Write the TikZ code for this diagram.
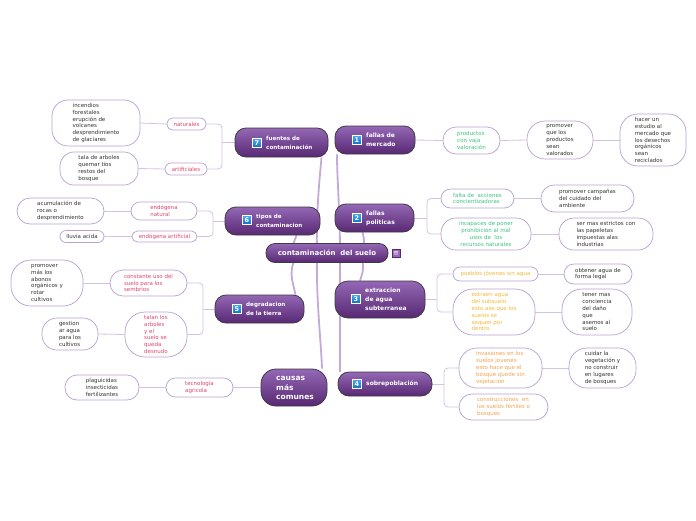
\documentclass[tikz,border=0pt]{standalone}
\usepackage{fontspec}
\setmainfont{DejaVu Sans}
\usetikzlibrary{backgrounds}
\definecolor{maintop}{HTML}{9468B5}
\definecolor{mainbot}{HTML}{582873}
\definecolor{mainborder}{HTML}{3E3A42}
\definecolor{subborder}{HTML}{B9A0D0}
\definecolor{conncol}{HTML}{D3C3E4}
\definecolor{mainconncol}{HTML}{C3AAD9}
\definecolor{redtext}{HTML}{E2456B}
\definecolor{greentext}{HTML}{3EC27F}
\definecolor{yellowtext}{HTML}{F4B936}
\definecolor{orangetext}{HTML}{F4A34C}
\definecolor{leaftext}{HTML}{333333}
\definecolor{icontop}{HTML}{4AAAF0}
\definecolor{iconbot}{HTML}{0E6FC8}
\begin{document}
\begin{tikzpicture}[x=1pt,y=-1pt,
 mainbox/.style={draw=mainborder, line width=0.8pt, rounded corners=11pt, top color=maintop, bottom color=mainbot, inner sep=0pt},
 maintext/.style={text=white, font=\bfseries\fontsize{6}{8.7}\selectfont, align=left, anchor=west, inner sep=0pt},
 smalltext/.style={maintext, font=\bfseries\fontsize{5.6}{8.4}\selectfont},
 iconbox/.style={top color=icontop, bottom color=iconbot, draw=white, line width=0.3pt, text=white, font=\bfseries\fontsize{6.5}{7}\selectfont, minimum size=9pt, inner sep=0pt},
 subbox/.style={draw=subborder, line width=0.7pt, fill=white, rounded corners=#1, inner sep=0pt, align=left, text=leaftext, font=\fontsize{5.5}{6.8}\selectfont},
 subbox/.default=6pt,
 conn/.style={draw=conncol, line width=0.8pt},
 mainconn/.style={draw=mainconncol, line width=1.8pt},
]
\useasboundingbox (0,0) rectangle (696,520);

% root
\node[mainbox, rounded corners=9pt, minimum width=122pt, minimum height=19pt, text=white, font=\bfseries\fontsize{7}{8}\selectfont] (root) at (327,253) {contaminación\ \ del suelo};
\node[fill=maintop, draw=mainbot, line width=0.4pt, minimum size=8pt, inner sep=0pt, text=white, font=\fontsize{7}{7}\selectfont] (menu) at (396,253.5) {≡};

% main nodes
\node[mainbox, minimum width=80pt, minimum height=28pt] (m1) at (375,140) {};
\node[mainbox, minimum width=79pt, minimum height=28pt] (m2) at (374.5,218) {};
\node[mainbox, rounded corners=13pt, minimum width=90pt, minimum height=37pt] (m3) at (380,299.5) {};
\node[mainbox, minimum width=94pt, minimum height=24pt] (m4) at (385,384) {};
\node[mainbox, minimum width=89pt, minimum height=28pt] (m5) at (259.5,309) {};
\node[mainbox, minimum width=95pt, minimum height=28pt] (m6) at (272.5,221) {};
\node[mainbox, minimum width=93pt, minimum height=29pt] (m7) at (281.5,142.5) {};
\node[mainbox, rounded corners=15pt, minimum width=66pt, minimum height=37pt] (mc) at (294,387.5) {};

\node[iconbox] (i1) at (357,140) {1};
\node[iconbox] (i2) at (357,218) {2};
\node[iconbox] (i3) at (356,299) {3};
\node[iconbox] (i4) at (357,384) {4};
\node[iconbox] (i5) at (237,309) {5};
\node[iconbox] (i6) at (247,220) {6};
\node[iconbox] (i7) at (257,143) {7};

\node[maintext] (t1) at (366,140) {fallas de\\mercado};
\node[maintext] (t2) at (366,218) {fallas\\politicas};
\node[maintext, font=\bfseries\fontsize{6}{9}\selectfont] (t3) at (365,299) {extraccion\\de agua\\subterranea};
\node[maintext] (t4) at (366,384) {sobrepoblación};
\node[smalltext] (t5) at (246,309) {degradacion\\de la tierra};
\node[smalltext] (t6) at (256,221) {tipos de\\contaminacion};
\node[smalltext] (t7) at (266,143) {fuentes de\\contaminación};
\node[maintext, font=\bfseries\fontsize{7.5}{9.5}\selectfont] (tc) at (276,388) {causas\\más\\comunes};

% left side: fuentes
\node[subbox=6pt, minimum width=39pt, minimum height=12pt, text=redtext] (n7a) at (186.5,124) {naturales};
\node[subbox=6pt, minimum width=42pt, minimum height=12pt, text=redtext] (n7b) at (186,169) {artificiales};
\node[subbox=16pt, minimum width=88pt, minimum height=46pt] (l7a) at (96,123) {incendios\\forestales\\erupción de\\volcanes\\desprendimiento\\de glaciares};
\node[subbox=14pt, minimum width=78pt, minimum height=33pt] (l7b) at (99,168.5) {tala de arboles\\quemar tios\\restos del\\bosque};
\coordinate (b7) at (222,142.5);

% tipos
\node[subbox=9pt, minimum width=66pt, minimum height=18pt, text=redtext] (n6a) at (164,211) {endógena\\natural};
\node[subbox=5.5pt, minimum width=65pt, minimum height=11pt, text=redtext] (n6b) at (164.5,236.5) {endógena artificial};
\node[subbox=13pt, minimum width=87pt, minimum height=26pt] (l6a) at (60.5,211) {acumulación de\\rocas o\\desprendimiento};
\node[subbox=6pt, minimum width=44pt, minimum height=12pt] (l6b) at (82,236.5) {lluvia acida};
\coordinate (b6) at (213,221);

% degradacion
\node[subbox=13pt, minimum width=77pt, minimum height=26pt, text=redtext] (n5a) at (148.5,283) {constante uso del\\suelo para los\\sembrios};
\node[subbox=20pt, minimum width=62pt, minimum height=45pt, text=redtext] (n5b) at (156,334.5) {talan los\\arboles\\y el\\suelo se\\queda\\desnudo};
\node[subbox=20pt, minimum width=72pt, minimum height=46pt] (l5a) at (47,283) {promover\\más los\\abonos\\orgánicos y\\rotar\\cultivos};
\node[subbox=15pt, minimum width=56pt, minimum height=32pt] (l5b) at (70,334) {gestion\\ar agua\\para los\\cultivos};
\coordinate (b5) at (203,309);

% causas
\node[subbox=9.5pt, minimum width=67pt, minimum height=19pt, text=redtext] (nc) at (199.5,387.5) {tecnología\\agricola};
\node[subbox=12pt, minimum width=74pt, minimum height=25pt] (lc) at (102,387.5) {plaguicidas\\insecticidas\\fertilizantes};

% right side: fallas de mercado
\node[subbox=13pt, minimum width=57pt, minimum height=27pt, text=greentext] (n1a) at (471.5,140.5) {productos\\con vaja\\valoración};
\node[subbox=18pt, minimum width=66pt, minimum height=38pt] (l1a) at (560,140) {promover\\que los\\productos\\sean\\valorados};
\node[subbox=18pt, minimum width=66pt, minimum height=52pt] (l1b) at (653,140) {hacer un\\estudio al\\mercado que\\los desechos\\orgánicos\\sean\\reciclados};

% fallas politicas
\node[subbox=9.5pt, minimum width=73pt, minimum height=19pt, text=greentext] (n2a) at (477.5,198.5) {falta de\ \ acciones\\concientizadoras};
\node[subbox=15pt, minimum width=90pt, minimum height=32pt, text=greentext, align=center] (n2b) at (486,234) {incapaces de poner\\prohibición al mal\\usos de\ \ los\\recursos naturales};
\node[subbox=13pt, minimum width=93pt, minimum height=27pt] (l2a) at (587.5,198.5) {promover campañas\\del cuidado del\\ambiente};
\node[subbox=15pt, minimum width=94pt, minimum height=32pt] (l2b) at (606,234) {ser mas estrictos con\\las papeletas\\impuestas alas\\industrias};
\coordinate (b2) at (427,218);

% extraccion
\node[subbox=7pt, minimum width=85pt, minimum height=14pt, text=yellowtext] (n3a) at (495.5,274) {pueblos jóvenes sin agua};
\node[subbox=20pt, minimum width=82pt, minimum height=46pt, text=yellowtext] (n3b) at (494,312) {extraen agua\\del subsuelo\\esto ase que los\\suelos se\\sequen por\\dentro};
\node[subbox=10pt, minimum width=68pt, minimum height=20pt] (l3a) at (598,274) {obtener agua de\\forma legal};
\node[subbox=20pt, minimum width=70pt, minimum height=46pt] (l3b) at (597,312) {tener mas\\conciencia\\del daño\\que\\asemos al\\suelo};
\coordinate (b3) at (437,299.5);

% sobrepoblacion
\node[subbox=18pt, minimum width=83pt, minimum height=40pt, text=orangetext] (n4a) at (500.5,368) {invasiones en los\\suelos jovenes\\esto hace que el\\bosque quede sin\\vejetacion};
\node[subbox=13pt, minimum width=89pt, minimum height=26pt, text=orangetext] (n4b) at (503.5,407) {construcciones\ \ en\\los suelos fértiles o\\bosques};
\node[subbox=18pt, minimum width=67pt, minimum height=40pt] (l4a) at (602.5,368) {cuidar la\\vegetación y\\no construir\\en lugares\\de bosques};
\coordinate (b4) at (444,384);

\begin{scope}[on background layer]
\fill[white] (0,0) rectangle (696,520);
% central connectors
\draw[mainconn] ([xshift=13pt]root.center) .. controls (340,210) and (337,180) .. ([xshift=-38pt]m1.south);
\draw[mainconn] ([xshift=13pt]root.center) .. controls (340,300) and (340,340) .. ([xshift=-45pt]m4.north);
\draw[mainconn] ([xshift=-10pt]root.center) .. controls (316,210) and (320,175) .. ([xshift=40pt]m7.south);
\draw[mainconn] ([xshift=-10pt]root.center) .. controls (316,300) and (321,340) .. ([xshift=28pt]mc.north);
\draw[mainconn] ([xshift=-27pt]root.center) .. controls (292,247) .. ([xshift=24pt]m6.south);
\draw[mainconn] ([xshift=-27pt]root.center) .. controls (286,268) and (293,282) .. ([xshift=36pt]m5.north);
\draw[mainconn] ([xshift=28pt]root.center) .. controls (367,248) and (364,238) .. ([xshift=-12pt]m2.south);
\draw[mainconn] ([xshift=28pt]root.center) .. controls (367,260) and (363,272) .. ([xshift=-20pt]m3.north);
% left groups
\draw[conn] (m7.west) -- (b7);
\draw[conn, rounded corners=4pt] (b7) |- (n7a.east);
\draw[conn, rounded corners=4pt] (b7) |- (n7b.east);
\draw[conn] (n7a.west) -- (l7a.east);
\draw[conn] (n7b.west) -- (l7b.east);
\draw[conn] (m6.west) -- (b6);
\draw[conn, rounded corners=4pt] (b6) |- (n6a.east);
\draw[conn, rounded corners=4pt] (b6) |- (n6b.east);
\draw[conn] (n6a.west) -- (l6a.east);
\draw[conn] (n6b.west) -- (l6b.east);
\draw[conn] (m5.west) -- (b5);
\draw[conn, rounded corners=4pt] (b5) |- (n5a.east);
\draw[conn, rounded corners=4pt] (b5) |- (n5b.east);
\draw[conn] (n5a.west) -- (l5a.east);
\draw[conn] (n5b.west) -- (l5b.east);
\draw[conn] (mc.west) -- (nc.east);
\draw[conn] (nc.west) -- (lc.east);
% right groups
\draw[conn] (m1.east) -- (n1a.west);
\draw[conn] (n1a.east) -- (l1a.west);
\draw[conn] (l1a.east) -- (l1b.west);
\draw[conn] (m2.east) -- (b2);
\draw[conn, rounded corners=4pt] (b2) |- (n2a.west);
\draw[conn, rounded corners=4pt] (b2) |- (n2b.west);
\draw[conn] (n2a.east) -- (l2a.west);
\draw[conn] (n2b.east) -- (l2b.west);
\draw[conn] (m3.east) -- (b3);
\draw[conn, rounded corners=4pt] (b3) |- (n3a.west);
\draw[conn, rounded corners=4pt] (b3) |- (n3b.west);
\draw[conn] (n3a.east) -- (l3a.west);
\draw[conn] (n3b.east) -- (l3b.west);
\draw[conn] (m4.east) -- (b4);
\draw[conn, rounded corners=4pt] (b4) |- (n4a.west);
\draw[conn, rounded corners=4pt] (b4) |- (n4b.west);
\draw[conn] (n4a.east) -- (l4a.west);
\end{scope}
\end{tikzpicture}
\end{document}
